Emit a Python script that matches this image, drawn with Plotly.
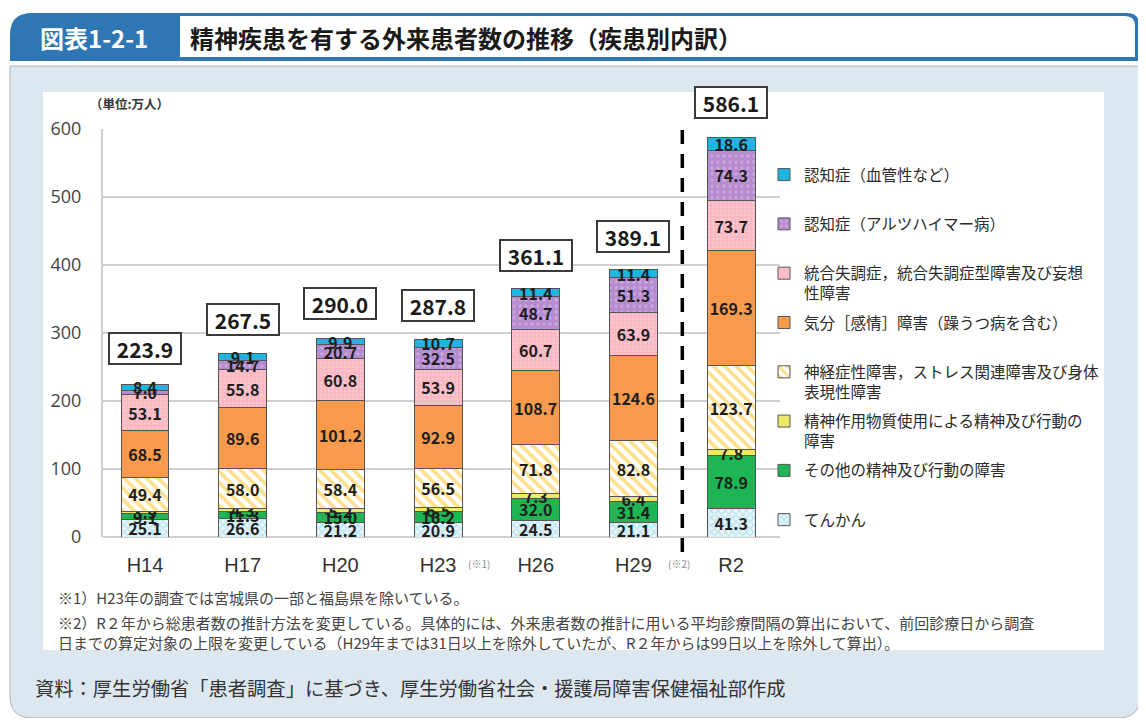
"""精神疾患を有する外来患者数の推移（疾患別内訳） - stacked bar chart."""

import plotly.graph_objects as go

YEARS = ["H14", "H17", "H20", "H23", "H26", "H29", "R2"]

# 万人, bottom -> top of each stack
EPILEPSY  = [25.1, 26.6, 21.2, 20.9, 24.5, 21.1, 41.3]
OTHER     = [9.1, 11.3, 15.0, 16.2, 32.0, 31.4, 78.9]
SUBSTANCE = [3.9, 4.3, 5.2, 6.5, 7.3, 6.4, 7.8]
NEUROTIC  = [49.4, 58.0, 58.4, 56.5, 71.8, 82.8, 123.7]
MOOD      = [68.5, 89.6, 101.2, 92.9, 108.7, 124.6, 169.3]
SCHIZO    = [53.1, 55.8, 60.8, 53.9, 60.7, 63.9, 73.7]
ALZHEIMER = [7.0, 14.7, 20.7, 32.5, 48.7, 51.3, 74.3]
VASCULAR  = [8.4, 9.1, 9.9, 10.7, 11.4, 11.4, 18.6]
TOTALS    = [223.9, 267.5, 290.0, 287.8, 361.1, 389.1, 586.1]

JP = "Noto Sans CJK JP"

# the page body has an 8px margin, so the figure is offset by that
OFF = 8
FIG_W, FIG_H = 1146 - OFF, 726 - 2 * OFF

# plot area in page pixels (used to place the decoration around the chart)
L, R, T, B = 103, 780, 129, 537
W, H = R - L, B - T


def px(x):
    return (x - L) / W


def py(y):
    return (B - y) / H


def rrect(x0, y0, x1, y1, tl=0, tr=0, br=0, bl=0):
    """Rounded rectangle path in paper coords from page pixel coords."""
    def p(x, y):
        return f"{px(x):.5f},{py(y):.5f}"
    return (
        f"M{p(x0 + tl, y0)} L{p(x1 - tr, y0)} Q{p(x1, y0)} {p(x1, y0 + tr)} "
        f"L{p(x1, y1 - br)} Q{p(x1, y1)} {p(x1 - br, y1)} "
        f"L{p(x0 + bl, y1)} Q{p(x0, y1)} {p(x0, y1 - bl)} "
        f"L{p(x0, y0 + tl)} Q{p(x0, y0)} {p(x0 + tl, y0)} Z"
    )


def note(x, y, text, size, color="#333", xanchor="left"):
    return dict(x=px(x), y=py(y), xref="paper", yref="paper", xanchor=xanchor, yanchor="middle",
                text=text, showarrow=False, font=dict(family=JP, size=size, color=color))


SERIES = [
    ("てんかん", EPILEPSY, dict(color="#eaf6fb", pattern=dict(shape="x", fgcolor="#86cde8", size=5, solidity=0.45))),
    ("その他の精神及び行動の障害", OTHER, dict(color="#1fb555")),
    ("精神作用物質使用による精神及び行動の<br>障害", SUBSTANCE, dict(color="#eee86a")),
    ("神経症性障害，ストレス関連障害及び身体<br>表現性障害", NEUROTIC,
     dict(color="#ffffff", pattern=dict(shape="\\", fgcolor="#ffbf14", size=8, solidity=0.45))),
    ("気分［感情］障害（躁うつ病を含む）", MOOD, dict(color="#f99a4c")),
    ("統合失調症，統合失調症型障害及び妄想<br>性障害", SCHIZO,
     dict(color="#f9b8c2", pattern=dict(shape=".", fgcolor="#fbd3d9", size=4, solidity=0.3))),
    ("認知症（アルツハイマー病）", ALZHEIMER,
     dict(color="#b68bd0", pattern=dict(shape=".", fgcolor="#d9c3e8", size=6, solidity=0.25))),
    ("認知症（血管性など）", VASCULAR, dict(color="#1db5e2")),
]

fig = go.Figure()
for i, (name, vals, marker) in enumerate(SERIES):
    label = name if "<br>" in name else name + "<br> "
    fig.add_trace(go.Bar(
        name=label,
        x=YEARS, y=vals,
        legendgroup=f"g{i}",
        legendrank=len(SERIES) - i,
        marker=dict(**marker, line=dict(color="#555555", width=1)),
        text=[f"{v:.1f}" for v in vals],
        textposition="inside",
        insidetextanchor="middle",
        textangle=0,
        constraintext="none",
        textfont=dict(family=JP, size=16, color="#1e1e1e", weight="bold"),
        width=0.49,
    ))

annotations = []
for yr, tot in zip(YEARS, TOTALS):
    annotations.append(dict(
        x=yr, y=tot, yshift=36, yanchor="middle", text=f"<b>{tot:.1f}</b>", showarrow=False,
        font=dict(family=JP, size=21, color="#1a1a1a"),
        bgcolor="white", bordercolor="#3a3a3a", borderwidth=2,
        width=68, height=27, borderpad=1,
    ))

annotations += [
    dict(x="H23", xshift=41, y=py(563), yref="paper", yanchor="middle", text="(※1)", showarrow=False,
         font=dict(family=JP, size=10, color="#8a8a8a")),
    dict(x="H29", xshift=46, y=py(563), yref="paper", yanchor="middle", text="(※2)", showarrow=False,
         font=dict(family=JP, size=10, color="#8a8a8a")),
    note(88, 103, "<b>（単位:万人）</b>", 12.5),
    note(56, 597, "※1）H23年の調査では宮城県の一部と福島県を除いている。", 15, "#444"),
    note(56, 622, "※2）R２年から総患者数の推計方法を変更している。具体的には、外来患者数の推計に用いる平均診療間隔の算出において、前回診療日から調査",
         15, "#444"),
    note(56, 642, "日までの算定対象の上限を変更している（H29年までは31日以上を除外していたが、R２年からは99日以上を除外して算出）。",
         15, "#444"),
    note(33, 688, "資料：厚生労働省「患者調査」に基づき、厚生労働省社会・援護局障害保健福祉部作成", 19.3),
    note(94, 38, "<b>図表1-2-1</b>", 24, "white", xanchor="center"),
    note(188, 38, "<b>精神疾患を有する外来患者数の推移（疾患別内訳）</b>", 24, "#1a1a1a"),
]

shapes = [
    # banner
    dict(type="path", path=rrect(10, 13, 1140, 61, tl=22, tr=14), xref="paper", yref="paper",
         fillcolor="#2f77b4", line=dict(width=0), layer="below"),
    dict(type="path", path=rrect(180, 16, 1135, 57, tr=10), xref="paper", yref="paper",
         fillcolor="white", line=dict(width=0), layer="below"),
    # light panel
    dict(type="path", path=rrect(10, 66, 1140, 718, br=22, bl=22), xref="paper", yref="paper",
         fillcolor="#dde7f0", line=dict(color="#a9b3bd", width=1), layer="below"),
    # white chart area
    dict(type="rect", x0=px(43), x1=px(1104), y0=py(650), y1=py(92), xref="paper", yref="paper",
         fillcolor="white", line=dict(width=0), layer="below"),
    # dashed separator between H29 and R2
    dict(type="line", x0=5.5, x1=5.5, xref="x", y0=py(552), y1=py(130), yref="paper",
         line=dict(color="black", width=3.5, dash="14px,10px")),
]

fig.update_layout(
    barmode="stack",
    width=FIG_W, height=FIG_H,
    margin=dict(l=L - OFF, r=FIG_W - (R - OFF), t=T - OFF, b=FIG_H - (B - OFF)),
    paper_bgcolor="white",
    plot_bgcolor="rgba(0,0,0,0)",
    font=dict(family=JP, color="#333"),
    uniformtext=dict(minsize=16, mode="show"),
    showlegend=True,
    legend=dict(
        x=px(764), y=py(158), xanchor="left", yanchor="top",
        traceorder="grouped", tracegroupgap=6, valign="top",
        font=dict(family=JP, size=15.5, color="#2a2a2a"),
        bgcolor="rgba(0,0,0,0)", itemwidth=30,
    ),
    xaxis=dict(
        range=[-0.43, 6.5], showgrid=False, showline=False, ticks="",
        tickfont=dict(family="Liberation Sans Narrow, Arial Narrow, sans-serif", size=20, color="#333"),
        ticklabelstandoff=14,
    ),
    yaxis=dict(
        range=[0, 600], dtick=100, showgrid=True, gridcolor="#cfcfcf", gridwidth=1.5,
        showline=True, linecolor="#cfcfcf", linewidth=2, zeroline=True, zerolinecolor="#cfcfcf",
        tickfont=dict(family="Open Sans, sans-serif", size=18, color="#444"),
        ticklabelstandoff=16,
    ),
    annotations=annotations,
    shapes=shapes,
)

fig.write_html("out.html")
